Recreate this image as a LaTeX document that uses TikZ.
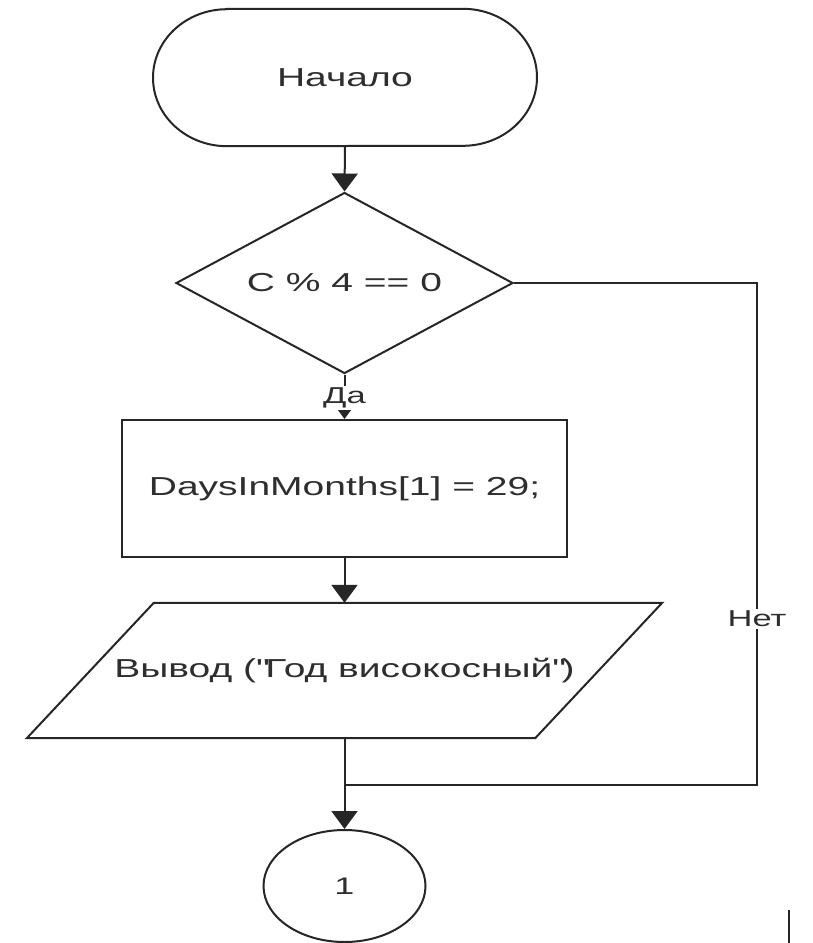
\documentclass[tikz,border=0pt]{standalone}
\usepackage{fontspec}
\setmainfont{Liberation Sans}[FakeStretch=1.5]
\usetikzlibrary{shapes.geometric,arrows.meta}
\definecolor{ln}{HTML}{262626}
\definecolor{tx}{HTML}{2E2E2E}
\tikzset{
  base/.style={text=tx, font=\fontsize{26}{30}\selectfont, inner sep=0pt},
  lbl/.style={text=tx, font=\fontsize{23}{27}\selectfont, fill=white, inner sep=1.5pt},
  ln/.style={draw=ln, line width=2pt},
  arr/.style={ln, -{Triangle[width=26pt,length=18pt]}},
}
\begin{document}
\begin{tikzpicture}[x=1pt,y=-1pt]
\fill[white] (0,0) rectangle (812,943);
\useasboundingbox (0,0) rectangle (812,943);

% terminal
\node[base, minimum width=384pt, minimum height=137pt] (start) at (345,77.5) {Начало};
\draw[ln] ([xshift=-118pt]start.north) -- ([xshift=118pt]start.north)
  arc[start angle=90,end angle=-90,x radius=74pt,y radius=68.5pt]
  -- ([xshift=-118pt]start.south)
  arc[start angle=270,end angle=90,x radius=74pt,y radius=68.5pt] -- cycle;

% decision
\node[base, ln, diamond, minimum width=337pt, minimum height=181pt, aspect=1.86] (dec) at (344.5,283) {C \% 4 == 0};

% process
\node[base, ln, rectangle, minimum width=445pt, minimum height=137pt] (proc) at (344.5,488.5) {DaysInMonths[1] = 29;};

% output (parallelogram)
\node[base, minimum width=508pt, minimum height=135pt] (out) at (344.5,670.5) {Вывод (\textquotedbl Год високосный\textquotedbl)};
\draw[ln] ([xshift=63.5pt]out.north west) -- ([xshift=63.5pt]out.north east)
  -- ([xshift=-63.5pt]out.south east) -- ([xshift=-63.5pt]out.south west) -- cycle;

% connector
\node[base, ln, ellipse, minimum width=162pt, minimum height=112pt, font=\fontsize{24}{28}\selectfont] (end) at (344.5,886) {1};

% connectors
\coordinate (join) at (344.5,785);
\coordinate (ne) at (757,785);
\draw[arr] (start.south) -- (dec.north);
\draw[arr] (dec.south) -- (proc.north);
\node[lbl] (da) at (344.5,398) {Да};
\draw[arr] (proc.south) -- (out.north);
\draw[arr] (out.south) -- (end.north);
\draw[ln] (dec.east) -| (ne) -- (join);
\node[lbl] (net) at (757,619) {Нет};

% stray mark
\draw[line width=1.2pt, ln] (789,910) -- (789,943);
\end{tikzpicture}
\end{document}
